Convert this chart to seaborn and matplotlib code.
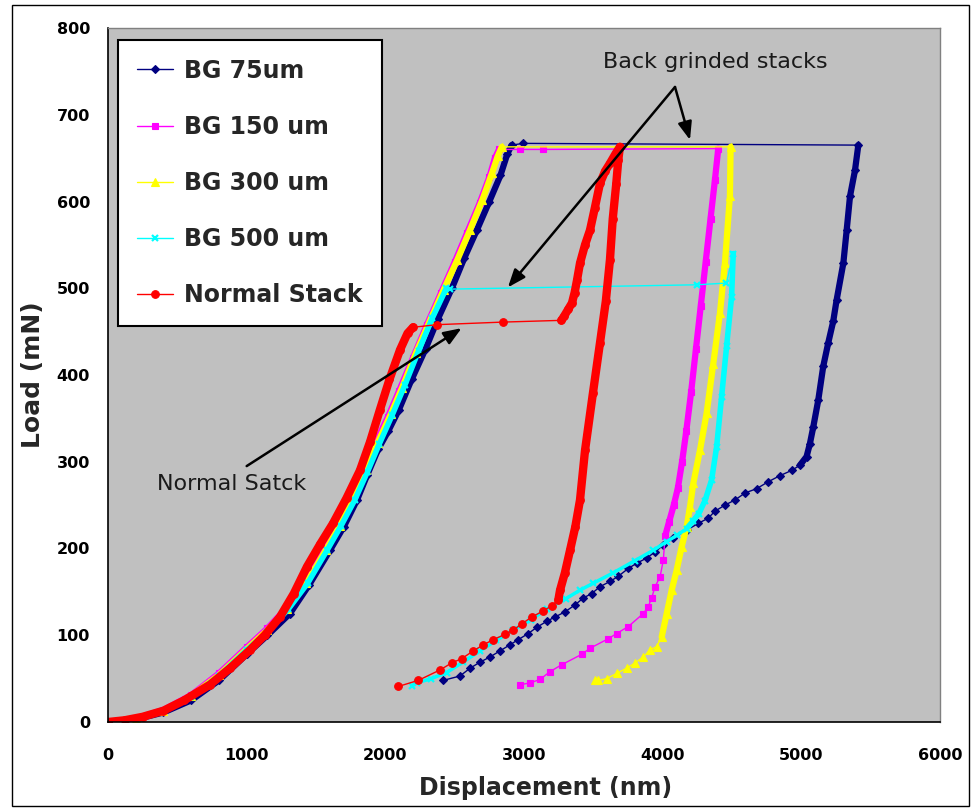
import matplotlib
matplotlib.use("Agg")
import matplotlib.pyplot as plt
import seaborn as sns
from matplotlib.patches import Rectangle

# ---- data (displacement nm, load mN) ----
# BG 75um
bg75_load_x = [0, 200, 400, 600, 800, 1000, 1150, 1312, 1450, 1601, 1700, 1796, 1870, 1950, 2020, 2098,
               2190, 2290, 2380, 2480, 2570, 2660, 2750, 2830, 2880, 2911]
bg75_load_y = [0, 3, 11, 25, 48, 78, 100, 125, 158, 198, 225, 256, 285, 315, 335, 360,
               395, 430, 465, 500, 535, 567, 600, 630, 655, 665]
bg75_hold_x = [2995, 5411]
bg75_hold_y = [667, 665]
bg75_unload_x = [5387, 5351, 5327, 5303, 5254, 5230, 5194, 5158, 5122, 5086, 5062, 5038, 4990]
bg75_unload_y = [636, 606, 567, 529, 486, 462, 437, 410, 371, 340, 321, 306, 296]
bg75_tail_x = [4930, 4846, 4762, 4678, 4594, 4522, 4449, 4377, 4329, 4257, 4173, 4077, 4005, 3945, 3885,
               3813, 3752, 3680, 3620, 3548, 3488, 3428, 3368, 3296, 3223, 3163, 3091, 3031, 2959, 2899,
               2827, 2755, 2683, 2611, 2538, 2418]
bg75_tail_y = [290, 284, 277, 269, 264, 256, 250, 243, 235, 229, 221, 212, 204, 196, 189,
               183, 177, 168, 162, 156, 148, 143, 135, 127, 121, 116, 109, 102, 95, 89,
               82, 75, 69, 62, 53, 48]

# BG 150 um
bg150_load_x = [0, 200, 400, 600, 800, 1000, 1150, 1280, 1420, 1560, 1660, 1760, 1850, 1930, 2020, 2100,
                2200, 2300, 2400, 2500, 2590, 2680, 2750, 2790, 2820]
bg150_load_y = [0, 4, 14, 31, 56, 86, 108, 130, 162, 200, 228, 260, 292, 322, 352, 382,
                420, 458, 494, 530, 564, 598, 628, 650, 660]
bg150_hold_x = [2971, 3137, 4401]
bg150_hold_y = [660, 660, 661]
bg150_unload_x = [4377, 4345, 4310, 4275, 4240, 4205, 4170, 4140, 4110, 4080, 4045, 4017]
bg150_unload_y = [625, 580, 530, 480, 430, 380, 335, 300, 270, 250, 230, 214]
bg150_tail_x = [4005, 3981, 3945, 3921, 3896, 3860, 3752, 3668, 3608, 3476, 3416, 3272, 3187, 3115, 3043, 2971]
bg150_tail_y = [187, 167, 156, 143, 133, 125, 110, 102, 96, 85, 78, 66, 58, 49, 45, 43]

# BG 300 um
bg300_load_x = [0, 200, 400, 600, 800, 1000, 1150, 1290, 1430, 1570, 1670, 1770, 1860, 1945, 2040, 2120,
                2220, 2320, 2420, 2520, 2610, 2700, 2770, 2810, 2840]
bg300_load_y = [0, 4, 13, 30, 54, 84, 106, 130, 160, 198, 226, 258, 290, 322, 355, 385,
                425, 462, 498, 533, 567, 602, 633, 652, 663]
bg300_hold_x = [4490]
bg300_hold_y = [663]
bg300_unload_x = [4485, 4449, 4413, 4365, 4317, 4270, 4221, 4197, 4173, 4137, 4101, 4065, 4029, 3993]
bg300_unload_y = [606, 529, 471, 413, 356, 314, 275, 248, 225, 202, 175, 152, 125, 98]
bg300_tail_x = [3957, 3909, 3860, 3800, 3740, 3668, 3596, 3536, 3512]
bg300_tail_y = [87, 83, 75, 68, 62, 56, 50, 48, 48]

# BG 500 um
bg500_load_x = [0, 200, 400, 600, 800, 1000, 1150, 1300, 1440, 1580, 1680, 1780, 1870, 1955, 2050, 2140,
                2240, 2340, 2440]
bg500_load_y = [0, 4, 13, 29, 53, 83, 104, 130, 160, 198, 226, 256, 288, 320, 354, 388,
                428, 466, 500]
bg500_hold_x = [2466, 4250, 4460, 4509]
bg500_hold_y = [499, 504, 506, 540]
bg500_unload_x = [4497, 4461, 4425, 4389, 4353, 4305, 4260, 4221, 4173]
bg500_unload_y = [490, 433, 375, 317, 279, 255, 240, 232, 223]
bg500_tail_x = [4101, 4029, 3933, 3800, 3644, 3500, 3404, 3300, 3163, 3050, 2923, 2800, 2683, 2560,
                2442, 2330, 2226, 2190]
bg500_tail_y = [215, 208, 198, 186, 172, 160, 152, 142, 130, 118, 106, 94, 82, 69,
                57, 50, 45, 42]

# Normal Stack
ns_load_x = [0, 120, 250, 400, 550, 735, 880, 1024, 1130, 1240, 1340, 1435, 1530, 1623, 1720, 1817,
             1890, 1961, 2030, 2106, 2160, 2200]
ns_load_y = [0, 2, 6, 13, 25, 43, 62, 83, 100, 121, 148, 179, 205, 229, 258, 290,
             323, 360, 395, 429, 448, 455]
ns_popin_x = [2370, 2850, 3270]
ns_popin_y = [458, 461, 463]
ns_rise_x = [3290, 3320, 3346, 3365, 3382, 3404, 3440, 3476, 3510, 3548, 3585, 3620, 3660, 3692]
ns_rise_y = [468, 476, 483, 495, 509, 529, 550, 567, 592, 621, 635, 644, 655, 663]
ns_unload_x = [3680, 3665, 3640, 3620, 3590, 3548, 3497, 3440, 3404, 3370, 3332, 3295, 3260, 3248]
ns_unload_y = [648, 620, 580, 533, 485, 437, 379, 313, 256, 225, 198, 172, 152, 141]
ns_tail_x = [3200, 3139, 3055, 2983, 2923, 2863, 2779, 2707, 2635, 2550, 2478, 2394, 2238, 2094]
ns_tail_y = [134, 128, 121, 113, 106, 101, 95, 89, 82, 73, 68, 60, 48, 41]

series_names = ["BG 75um", "BG 150 um", "BG 300 um", "BG 500 um", "Normal Stack"]

# ---- figure ----
sns.set_style("white")
plt.rcParams['font.family'] = ['DejaVu Sans']

fig = plt.figure(figsize=(9.72, 8.1), dpi=100)
ax = fig.add_axes([108 / 972, 1 - 722 / 810, 832 / 972, 694 / 810])
ax.set_facecolor('#C0C0C0')

styles = [
    ('#000080', 'D', 4.5, 4.5, [(bg75_load_x, bg75_load_y, 'dense'), (bg75_hold_x, bg75_hold_y, 'thin'),
                                (bg75_unload_x, bg75_unload_y, 'dense'), (bg75_tail_x, bg75_tail_y, 'thin')]),
    ('#FF00FF', 's', 4.5, 4.5, [(bg150_load_x, bg150_load_y, 'dense'), (bg150_hold_x, bg150_hold_y, 'thin'),
                                (bg150_unload_x, bg150_unload_y, 'dense'), (bg150_tail_x, bg150_tail_y, 'thin')]),
    ('#FFFF00', '^', 5.5, 4.5, [(bg300_load_x, bg300_load_y, 'dense'), (bg300_hold_x, bg300_hold_y, 'thin'),
                                (bg300_unload_x, bg300_unload_y, 'dense'), (bg300_tail_x, bg300_tail_y, 'thin')]),
    ('#00FFFF', 'x', 5.0, 4.0, [(bg500_load_x, bg500_load_y, 'dense'), (bg500_hold_x, bg500_hold_y, 'thin'),
                                (bg500_unload_x, bg500_unload_y, 'dense'), (bg500_tail_x, bg500_tail_y, 'mid')]),
    ('#FF0000', 'o', 5.5, 6.0, [(ns_load_x, ns_load_y, 'dense'), (ns_popin_x, ns_popin_y, 'thin'),
                                (ns_rise_x, ns_rise_y, 'dense'), (ns_unload_x, ns_unload_y, 'dense'),
                                (ns_tail_x, ns_tail_y, 'thin')]),
]

for name, (color, marker, ms, thick, segs) in zip(series_names, styles):
    all_x, all_y = [], []
    prev = None
    for xs, ys, kind in segs:
        if kind != 'thin':
            px = ([prev[0]] if prev else []) + list(xs)
            py = ([prev[1]] if prev else []) + list(ys)
            lw = thick if kind == 'dense' else 2.5
            sns.lineplot(x=px, y=py, sort=False, estimator=None, color=color, lw=lw,
                         solid_capstyle='round', solid_joinstyle='round', legend=False, ax=ax)
        all_x += list(xs)
        all_y += list(ys)
        prev = (xs[-1], ys[-1])
    sns.lineplot(x=all_x, y=all_y, sort=False, estimator=None, color=color, lw=1,
                 marker=marker, markersize=ms, mec=color, mfc=color,
                 mew=1.6 if marker == 'x' else 0.8, label=name, ax=ax)

ax.set_xlim(0, 6000)
ax.set_ylim(0, 800)
ax.set_xticks(range(0, 6001, 1000))
ax.set_yticks(range(0, 801, 100))
ax.tick_params(axis='both', direction='out', length=4, width=1, colors='black', labelsize=11.5)
ax.tick_params(axis='x', pad=15)
ax.tick_params(axis='y', pad=9)
for lbl in ax.get_xticklabels() + ax.get_yticklabels():
    lbl.set_fontweight('bold')

for side in ['left', 'bottom']:
    ax.spines[side].set_color('black')
    ax.spines[side].set_linewidth(1.2)
for side in ['top', 'right']:
    ax.spines[side].set_color('#808080')
    ax.spines[side].set_linewidth(1.0)

ax.set_xlabel("Displacement (nm)", fontsize=17, fontweight='bold')
ax.set_ylabel("Load (mN)", fontsize=18, fontweight='bold')
ax.xaxis.set_label_coords(0.526, -0.078)
ax.yaxis.set_label_coords(-0.076, 0.5)

leg = ax.legend(loc='upper left', bbox_to_anchor=(0.012, 0.983), prop={'weight': 'bold', 'size': 17},
                frameon=True, fancybox=False, edgecolor='black', framealpha=1, facecolor='white',
                borderpad=0.8, labelspacing=1.36, handlelength=1.55, handletextpad=0.45, borderaxespad=0)
leg.get_frame().set_linewidth(1.5)

# annotations
arrow_kw = dict(arrowstyle='-|>,head_length=0.9,head_width=0.35', color='black', lw=1.8,
                shrinkA=0, shrinkB=0, mutation_scale=12)
ax.annotate("", xy=(2884, 501), xytext=(4089, 732), arrowprops=arrow_kw, zorder=8)
ax.annotate("", xy=(4197, 671), xytext=(4089, 732), arrowprops=arrow_kw, zorder=8)
ax.annotate("", xy=(2550, 454), xytext=(1000, 295), arrowprops=arrow_kw, zorder=8)
ax.text(4377, 761, "Back grinded stacks", ha='center', va='center', fontsize=16, color='#1a1a1a', zorder=8)
ax.text(894, 274, "Normal Satck", ha='center', va='center', fontsize=16, color='#1a1a1a', zorder=8)

# outer chart border
fig.add_artist(Rectangle((12 / 972, 4 / 810), 957 / 972, 801 / 810, transform=fig.transFigure,
                         fill=False, edgecolor='black', lw=1))

fig.savefig("out.png", dpi=100, facecolor='white')
